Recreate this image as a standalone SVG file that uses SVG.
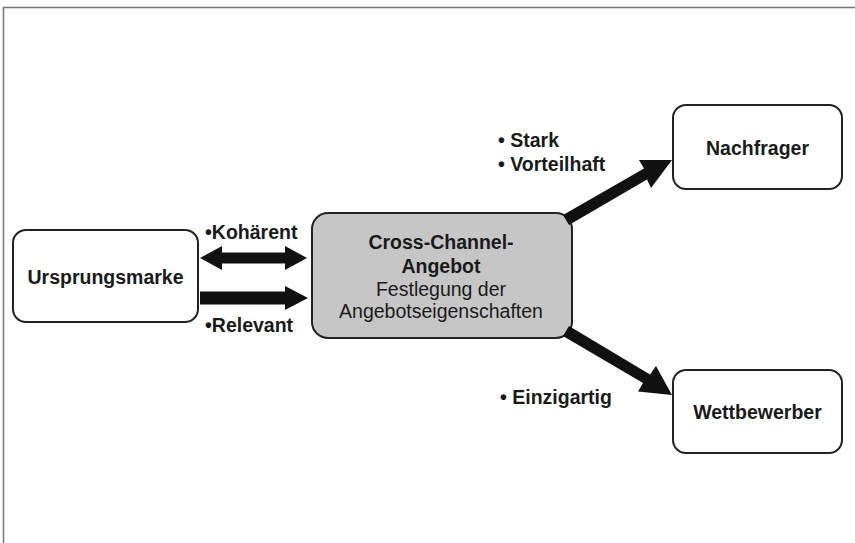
<svg xmlns="http://www.w3.org/2000/svg" width="855" height="543" viewBox="0 0 855 543">
<style>
.box{fill:#fff;stroke:#222;stroke-width:2}
.grey{fill:#c6c6c6;stroke:#222;stroke-width:2}
.t{font-family:"Liberation Sans",Arial,sans-serif;font-size:19.5px;fill:#1a1a1a}
.b{font-weight:bold}
.arr{fill:#111;stroke:none}
</style>
<rect width="855" height="543" fill="#fff"/>
<path d="M3.5 543 V7.5 H855" fill="none" stroke="#777" stroke-width="1.5"/>
<g id="ursprungsmarke">
<rect class="box" x="13" y="230" width="185" height="92" rx="13"/>
<text class="t b" x="105.5" y="284" text-anchor="middle">Ursprungsmarke</text>
</g>
<g id="angebot">
<rect class="grey" x="312" y="213" width="260" height="125" rx="16"/>
<text class="t b" x="441" y="249" text-anchor="middle">Cross-Channel-</text>
<text class="t b" x="441" y="273" text-anchor="middle">Angebot</text>
<text class="t" x="441" y="296" text-anchor="middle">Festlegung der</text>
<text class="t" x="441" y="318" text-anchor="middle">Angebotseigenschaften</text>
</g>
<g id="nachfrager">
<rect class="box" x="673" y="105" width="169" height="84" rx="13"/>
<text class="t b" x="757.5" y="155" text-anchor="middle">Nachfrager</text>
</g>
<g id="wettbewerber">
<rect class="box" x="673" y="370" width="169" height="83" rx="13"/>
<text class="t b" x="757.5" y="419" text-anchor="middle">Wettbewerber</text>
</g>
<g id="connectors">
<polygon class="arr" points="200,258 222,246 222,252.5 285,252.5 285,246 307,258 285,270 285,263.5 222,263.5 222,270"/>
<polygon class="arr" points="200,291.5 285,291.5 285,286 308,298 285,310 285,304.5 200,304.5"/>
<polygon class="arr" points="563,215 644,168.5 639,160 672,160 651,188 647,179.5 569,225"/>
<polygon class="arr" points="563,336 643,383 638,391.5 672,395 656,366 650,374.5 569,326"/>
</g>
<g id="labels">
<text class="t b" x="205" y="239">•Kohärent</text>
<text class="t b" x="205" y="332">•Relevant</text>
<text class="t b" x="498" y="147">• Stark</text>
<text class="t b" x="498" y="171">• Vorteilhaft</text>
<text class="t b" x="500" y="404">• Einzigartig</text>
</g>
</svg>
